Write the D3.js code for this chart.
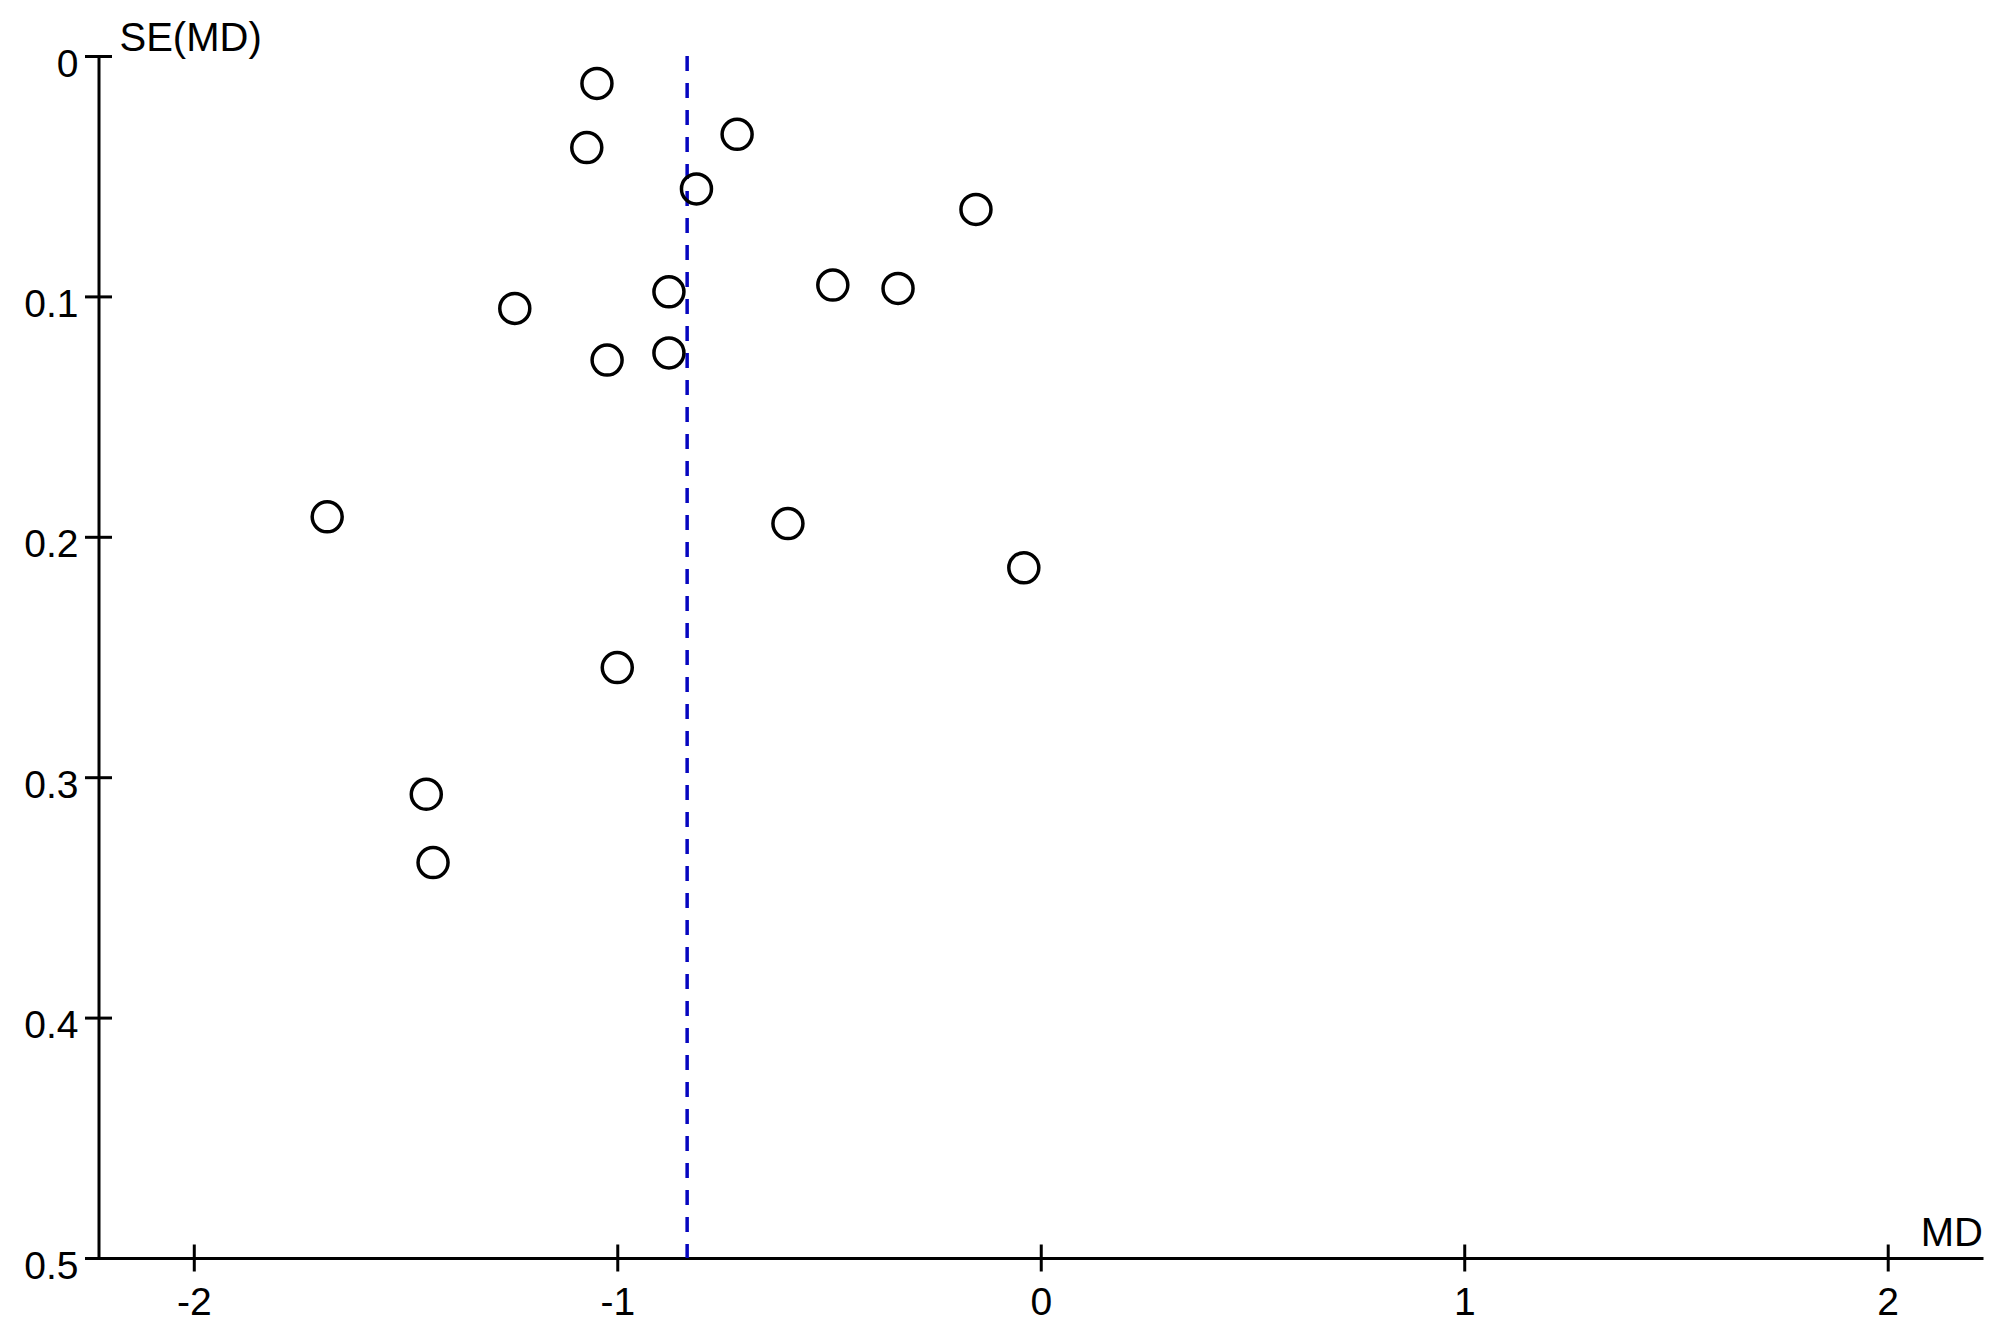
<!DOCTYPE html>
<html lang="en">
<head>
    <meta charset="UTF-8">
    <title>Funnel plot</title>
    <script src="https://d3js.org/d3.v7.min.js"></script>
    <style>
        body { margin: 0; background: #fff; }
        svg { display: block; font-family: "Liberation Sans", Arial, sans-serif; }
    </style>
</head>
<body>
    <svg id="chart" width="2000" height="1333"></svg>

    <script>
        // study effects (mean difference) and their standard errors
        const md = [-1.048, -0.717, -1.072, -0.813, -0.153, -0.491, -0.337, -0.878, -1.242,
                    -0.878, -1.024, -1.685, -0.597, -0.040, -1.000, -1.451, -1.435];
        const se = [0.0114, 0.0326, 0.0381, 0.0553, 0.0638, 0.0953, 0.0967, 0.0981, 0.1050,
                    0.1235, 0.1265, 0.1917, 0.1945, 0.2129, 0.2544, 0.3071, 0.3355];
        const pooledMD = -0.835;

        const xTicks = [-2, -1, 0, 1, 2];
        const yTicks = [0, 0.1, 0.2, 0.3, 0.4, 0.5];

        const svg = d3.select("#chart");

        const x = d3.scaleLinear().domain([-2.225, 2.225]).range([98.5, 1983]);
        const y = d3.scaleLinear().domain([0, 0.5]).range([56, 1258]);

        const tick = 13.5;

        // x axis (plain hyphen for negatives, like the original)
        const gx = svg.append("g")
            .attr("transform", `translate(0,${y(0.5)})`)
            .call(d3.axisBottom(x).tickValues(xTicks).tickFormat(d => String(d)).tickSizeOuter(0));
        gx.select(".domain").attr("stroke", "#000").attr("stroke-width", 3);
        gx.selectAll(".tick line").attr("y1", -tick).attr("y2", tick)
            .attr("stroke", "#000").attr("stroke-width", 3);
        gx.selectAll(".tick text").attr("y", 57).attr("dy", null)
            .attr("font-size", 39).attr("font-family", "Liberation Sans, Arial, sans-serif")
            .attr("fill", "#000");

        // y axis
        const gy = svg.append("g")
            .attr("transform", `translate(${x(-2.225)},0)`)
            .call(d3.axisLeft(y).tickValues(yTicks).tickFormat(d => d === 0 ? "0" : d3.format(".1f")(d)).tickSizeOuter(0));
        gy.select(".domain").attr("stroke", "#000").attr("stroke-width", 3);
        gy.selectAll(".tick line").attr("x1", -tick).attr("x2", tick)
            .attr("stroke", "#000").attr("stroke-width", 3);
        gy.selectAll(".tick text").attr("x", -20).attr("dy", null).attr("y", 20)
            .attr("font-size", 39).attr("font-family", "Liberation Sans, Arial, sans-serif")
            .attr("fill", "#000");

        // axis titles
        svg.append("text")
            .attr("x", x(-2.225) + 21).attr("y", 51)
            .attr("font-size", 40).attr("fill", "#000")
            .text("SE(MD)");
        svg.append("text")
            .attr("x", 1983).attr("y", 1246)
            .attr("text-anchor", "end")
            .attr("font-size", 40).attr("fill", "#000")
            .text("MD");

        // pooled estimate
        svg.append("line")
            .attr("x1", x(pooledMD)).attr("x2", x(pooledMD))
            .attr("y1", y(0)).attr("y2", y(0.5))
            .attr("stroke", "#0606c0").attr("stroke-width", 3.5)
            .attr("stroke-dasharray", "15,12");

        // studies
        svg.append("g").selectAll("circle")
            .data(md.map((m, i) => ({ md: m, se: se[i] })))
            .join("circle")
            .attr("cx", d => x(d.md))
            .attr("cy", d => y(d.se))
            .attr("r", 15)
            .attr("fill", "none")
            .attr("stroke", "#000")
            .attr("stroke-width", 3.5);
    </script>
</body>
</html>
